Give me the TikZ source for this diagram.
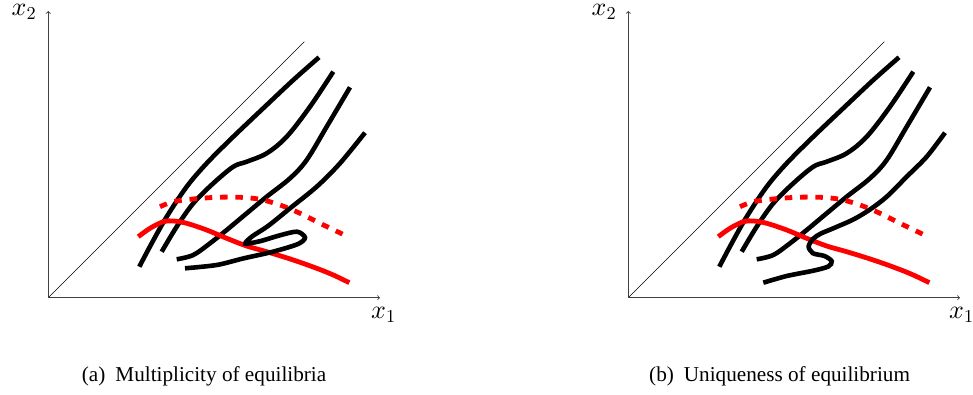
\documentclass[tikz,border=0pt]{standalone}
\usepackage[no-math]{fontspec}
\setmainfont{Liberation Serif}
\DeclareFontShape{OML}{cmm}{m}{it}{<->cmmi10}{}
\DeclareFontShape{OT1}{cmr}{m}{n}{<->cmr10}{}
\newcommand\mypanelcurves{%
  \draw[thinline] (O) -- (D);
  \draw[axisline] (O) -- (X);
  \draw[axisline] (O) -- (Y);
  \draw[blackcurve] plot[smooth, tension=0.55] coordinates {(139.3,266.7) (151.7,243.3) (166.7,216.7) (186.7,186.7) (206.7,163.3) (233.3,136.7) (266.7,105) (293.3,80) (319,57.3)};
  \draw[blackcurve] plot[smooth, tension=0.55] coordinates {(161.7,251.7) (176.7,226.7) (193.3,203.3) (213.3,183.3) (233.3,166.7) (246.7,161.7) (266.7,153.3) (286.7,136.7) (310,106.7) (333.3,71.7)};
  \draw[blackcurve] plot[smooth, tension=0.55] coordinates {(176.7,259.3) (193.3,255) (210,243.3) (226.7,230) (246.7,213.3) (266.7,196.7) (290,178.3) (306.7,160) (326.7,126.7) (350,87.3)};
  \draw[redcurve] plot[smooth, tension=0.55] coordinates {(138.3,236.7) (150,228.3) (163.3,221.7) (173.3,221) (186.7,223.3) (206.7,230) (226.7,238.3) (246.7,246) (266.7,251.7) (293.3,260) (316.7,268.3) (333.3,275) (349.3,282.7)};
  \draw[reddash] plot[smooth, tension=0.55] coordinates {(160,206.7) (173.3,201.7) (193.3,199) (216.7,197.3) (240,197.3) (260,199.3) (280,205) (300,213.3) (320,223.3) (349.3,237.3)};
}
\begin{document}
\begin{tikzpicture}[x=1pt,y=-1pt,
  axisline/.style={line width=0.9pt, black!75, ->},
  thinline/.style={line width=0.6pt, black},
  blackcurve/.style={line width=4.6pt, black, line cap=butt},
  redcurve/.style={line width=4.8pt, red, line cap=butt},
  reddash/.style={line width=4.8pt, red, line cap=butt, dash pattern=on 7.5pt off 7.8pt},
  axlabel/.style={font=\fontsize{26}{30}\selectfont, inner sep=0pt, anchor=base west},
  caplabel/.style={font=\fontsize{21.2}{25}\selectfont, inner sep=0pt, anchor=base west}]
\useasboundingbox (0,0) rectangle (973,395);
% left panel
\begin{scope}
  \coordinate (O) at (48.3,297.7);
  \coordinate (X) at (380,297.7);
  \coordinate (Y) at (48.3,11);
  \coordinate (D) at (304.3,41.7);
  \mypanelcurves
  \draw[blackcurve] plot[smooth, tension=0.5] coordinates {(185,268.3) (216.7,265) (243,258.5) (273,251.7) (298,244) (305,237.5) (297,231.7) (280,235.3) (260,241.2) (245.5,243.5) (252,236.5) (268,226) (290,208.3) (316.7,186.7) (340,163.3) (365,132.7)};
  \node[axlabel] (x2a) at (11.5,15.5) {$x_2$};
  \node[axlabel] (x1a) at (371,318.5) {$x_1$};
  \node[caplabel] (capa) at (81.7,381.7) {(a)\hspace{10pt}Multiplicity of equilibria};
\end{scope}
% right panel
\begin{scope}[shift={(580,0)}]
  \coordinate (O) at (48.3,297.7);
  \coordinate (X) at (380,297.7);
  \coordinate (Y) at (48.3,11);
  \coordinate (D) at (304.3,41.7);
  \mypanelcurves
  \draw[blackcurve] plot[smooth, tension=0.5] coordinates {(183.3,282.7) (206.7,276) (233.3,270.7) (248.3,266.5) (251.7,261.2) (244.5,256) (233,253.3) (228.6,246.5) (233.3,238.6) (241,233.5) (253.3,228.3) (273.3,219.5) (290,209.5) (306.7,196.7) (326.7,176.7) (346.7,156.7) (365,132.7)};
  \node[axlabel] (x2b) at (11.5,15.5) {$x_2$};
\end{scope}
\node[axlabel] (x1b) at (949,318.5) {$x_1$};
\node[caplabel] (capb) at (649,381.7) {(b)\hspace{10pt}Uniqueness of equilibrium};
\end{tikzpicture}
\end{document}
